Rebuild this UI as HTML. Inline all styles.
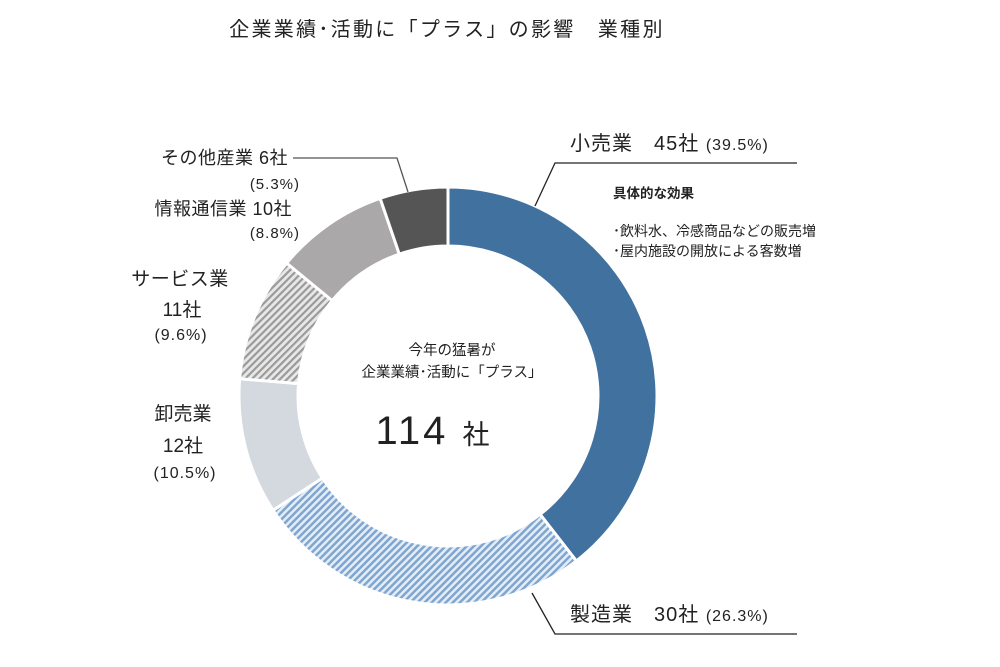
<!DOCTYPE html>
<html><head><meta charset="utf-8"><style>
html,body{margin:0;padding:0;background:#fff;}
body{width:1000px;height:667px;overflow:hidden;position:relative;font-family:"Liberation Sans","Noto Sans CJK JP",sans-serif;color:#222;}
</style></head><body>
<svg id="s" width="1000" height="667" xmlns="http://www.w3.org/2000/svg" style="position:absolute;left:0;top:0">
<defs>
<pattern id="hb" patternUnits="userSpaceOnUse" width="5" height="5" patternTransform="rotate(45)">
<rect width="5" height="5" fill="#e4edf6"/><rect width="2.5" height="5" fill="#7fa6d0"/></pattern>
<pattern id="hg" patternUnits="userSpaceOnUse" width="5" height="5" patternTransform="rotate(45)">
<rect width="5" height="5" fill="#e8e8e8"/><rect width="2.2" height="5" fill="#9a9a9a"/></pattern>
</defs>
<g id="ring"></g>
<g stroke="#222" stroke-width="1.3" fill="none">
<polyline points="535,206 555,163 797,163"/>
<polyline points="532,593 555,634 797,634"/>
<polyline points="408,192 397,158 293,158" stroke="#555"/>
</g>
<g font-family="Liberation Sans,Noto Sans CJK JP,sans-serif" fill="#222">
<text x="447" y="36" font-size="20" letter-spacing="2.3" text-anchor="middle">企業業績･活動に「プラス」の影響　業種別</text>
<text x="570" y="150" font-size="20" letter-spacing="1">小売業　45社 <tspan font-size="16">(39.5%)</tspan></text>
<text x="613" y="198" font-size="13.5" font-weight="bold">具体的な効果</text>
<text x="613" y="236" font-size="14">･飲料水、冷感商品などの販売増</text>
<text x="613" y="256" font-size="14">･屋内施設の開放による客数増</text>
<text x="570" y="621" font-size="20" letter-spacing="1">製造業　30社 <tspan font-size="16">(26.3%)</tspan></text>
<text x="288" y="164" font-size="18" letter-spacing="0.5" text-anchor="end">その他産業 6社</text>
<text x="300" y="189" font-size="15" letter-spacing="1" text-anchor="end">(5.3%)</text>
<text x="292" y="215" font-size="18" letter-spacing="0.5" text-anchor="end">情報通信業 10社</text>
<text x="300" y="238" font-size="15" letter-spacing="1" text-anchor="end">(8.8%)</text>
<text x="180" y="285" font-size="19" letter-spacing="0.5" text-anchor="middle">サービス業</text>
<text x="182" y="316" font-size="19" text-anchor="middle">11社</text>
<text x="181" y="340" font-size="16" letter-spacing="1" text-anchor="middle">(9.6%)</text>
<text x="183" y="420" font-size="19" text-anchor="middle">卸売業</text>
<text x="183" y="452" font-size="19" text-anchor="middle">12社</text>
<text x="185" y="478" font-size="16" letter-spacing="1" text-anchor="middle">(10.5%)</text>
<text x="452" y="355" font-size="14.5" text-anchor="middle">今年の猛暑が</text>
<text x="452" y="377" font-size="14.5" text-anchor="middle">企業業績･活動に「プラス」</text>
<text x="434" y="444" font-size="40" letter-spacing="3" text-anchor="middle">114 <tspan font-size="27">社</tspan></text>
</g>
</svg>
<script>
(function(){
var cx=448,cy=396,R=209,r=150;
var d=[[45,"#40719f"],[30,"url(#hb)"],[12,"#d3d9de"],[11,"url(#hg)"],[10,"#aaa8a9"],[6,"#555555"]];
var g=document.getElementById("ring"),a=0,h="";
function p(ang,rad){var t=(ang-90)*Math.PI/180;return (cx+rad*Math.cos(t)).toFixed(2)+","+(cy+rad*Math.sin(t)).toFixed(2);}
d.forEach(function(s){var b=a+s[0]/114*360,l=(b-a)>180?1:0;
h+='<path d="M'+p(a,R)+' A'+R+','+R+' 0 '+l+' 1 '+p(b,R)+' L'+p(b,r)+' A'+r+','+r+' 0 '+l+' 0 '+p(a,r)+' Z" fill="'+s[1]+'" stroke="#fff" stroke-width="3"/>';a=b;});
g.innerHTML=h;
})();
</script>
</body></html>
